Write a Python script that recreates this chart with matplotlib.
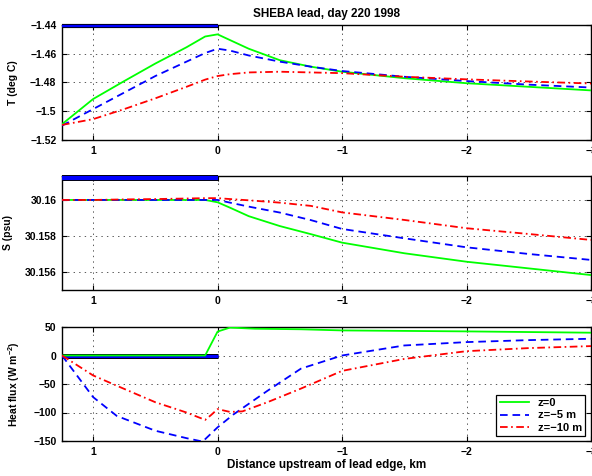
import matplotlib
matplotlib.use('Agg')
import matplotlib.pyplot as plt
import numpy as np

plt.rcParams['font.family'] = ['Liberation Sans', 'DejaVu Sans']
plt.rcParams['font.weight'] = 'bold'
plt.rcParams['axes.labelweight'] = 'bold'
plt.rcParams['mathtext.fontset'] = 'custom'
plt.rcParams['mathtext.rm'] = 'Liberation Sans:bold'
plt.rcParams['mathtext.bf'] = 'Liberation Sans:bold'
plt.rcParams['mathtext.default'] = 'bf'
plt.rcParams['lines.scale_dashes'] = False

# distance upstream of lead edge (km), shared by T and S panels
x_ts = [1.25, 1.0, 0.75, 0.5, 0.25, 0.1, 0.0, -0.1, -0.25, -0.5, -0.75, -1.0, -1.5, -2.0, -2.5, -3.0]

T_z0 = [-1.509, -1.4915, -1.479, -1.4668, -1.4555, -1.448, -1.4465, -1.4505, -1.4565, -1.4645,
        -1.469, -1.4725, -1.477, -1.4805, -1.483, -1.4855]
T_z5 = [-1.510, -1.4985, -1.487, -1.4755, -1.4655, -1.4595, -1.4565, -1.4578, -1.4612, -1.4655,
        -1.469, -1.472, -1.476, -1.479, -1.4815, -1.4835]
T_z10 = [-1.5095, -1.5055, -1.4985, -1.491, -1.483, -1.478, -1.4755, -1.4742, -1.473, -1.4725,
         -1.473, -1.4735, -1.476, -1.4778, -1.4793, -1.4807]

S_z0 = [30.16, 30.16, 30.16, 30.16, 30.16, 30.16, 30.15987, 30.15957, 30.1591, 30.15855,
        30.1581, 30.15763, 30.15704, 30.15657, 30.1562, 30.15583]
S_z5 = [30.16, 30.16, 30.16, 30.16, 30.16, 30.16, 30.16, 30.15985, 30.15963, 30.1593,
        30.15888, 30.15839, 30.15787, 30.15737, 30.157, 30.15667]
S_z10 = [30.16, 30.16, 30.16003, 30.16005, 30.16008, 30.1601, 30.1601, 30.16005, 30.15998, 30.15985,
         30.15967, 30.15931, 30.15889, 30.15843, 30.15811, 30.15778]

# heat flux
x_q0 = [1.25, 0.1, 0.0, -0.1, -0.3, -0.67, -1.0, -2.0, -3.0]
Q_z0 = [0, 0, 42, 49, 47, 46, 44, 42.3, 40]
x_q5 = [1.25, 1.0, 0.81, 0.5, 0.25, 0.12, 0.0, -0.13, -0.4, -0.67, -1.0, -1.5, -2.0, -2.5, -3.0]
Q_z5 = [0, -73, -106, -132, -145, -151, -126, -103, -62, -23, 0, 17.6, 23.5, 27, 29.4]
x_q10 = [1.25, 1.0, 0.81, 0.5, 0.25, 0.1, 0.05, 0.0, -0.1, -0.2, -0.4, -0.67, -1.0,
         -1.5, -2.0, -2.5, -3.0]
Q_z10 = [0, -35, -53, -82, -100, -113, -104, -94, -99, -98, -82, -58, -27, -6, 7.6, 13, 16.5]

# ice cover extent
ice_x = [1.25, 0.0]

labels = ['z=0', 'z=\u22125 m', 'z=\u221210 m']
green = '#00ff00'
blue = '#0000ff'
red = '#ff0000'
dash = (5.5, 3.5)
dashdot = (5.5, 2.5, 1.2, 2.5)

fig = plt.figure(figsize=(5.92, 4.76), dpi=100)
L, W = 62 / 592, 529 / 592
ax1 = fig.add_axes([L, 1 - 140 / 476, W, 115 / 476])
ax2 = fig.add_axes([L, 1 - 290 / 476, W, 114 / 476])
ax3 = fig.add_axes([L, 1 - 441 / 476, W, 114 / 476])


def ice_bar(ax, y, lw):
    ax.plot(ice_x, [y, y], color='black', lw=lw, solid_capstyle='butt', clip_on=False, zorder=3)
    ax.plot(ice_x, [y, y], color=blue, lw=lw - 1.3, solid_capstyle='butt', clip_on=False, zorder=3)


# T
ax1.plot(x_ts, T_z0, color=green, lw=1.3, zorder=4)
ax1.plot(x_ts, T_z5, color=blue, lw=1.3, dashes=dash, zorder=4)
ax1.plot(x_ts, T_z10, color=red, lw=1.3, dashes=dashdot, zorder=4)
ice_bar(ax1, -1.4405, 3.0)
ax1.set_ylim(-1.52, -1.44)
ax1.set_yticks([-1.52, -1.5, -1.48, -1.46, -1.44])
ax1.set_yticklabels(['\u22121.52', '\u22121.5', '\u22121.48', '\u22121.46', '\u22121.44'])
ax1.set_ylabel('T (deg C)')
ax1.yaxis.set_label_coords(-0.083, 0.5)
ax1.set_title('SHEBA lead, day 220 1998', fontsize=8.5, fontweight='bold', pad=6)

# S
ax2.plot(x_ts, S_z0, color=green, lw=1.3, zorder=4)
ax2.plot(x_ts, S_z5, color=blue, lw=1.3, dashes=dash, zorder=4)
ax2.plot(x_ts, S_z10, color=red, lw=1.3, dashes=dashdot, zorder=4)
ice_bar(ax2, 30.16122, 4.3)
ax2.set_ylim(30.155, 30.16133)
ax2.set_yticks([30.156, 30.158, 30.16])
ax2.set_yticklabels(['30.156', '30.158', '30.16'])
ax2.set_ylabel('S (psu)')
ax2.yaxis.set_label_coords(-0.093, 0.5)

# heat flux
ice_bar(ax3, -1.5, 3.6)
ax3.plot(x_q0, Q_z0, color=green, lw=1.3, zorder=4, label=labels[0])
ax3.plot(x_q5, Q_z5, color=blue, lw=1.3, dashes=dash, zorder=4, label=labels[1])
ax3.plot(x_q10, Q_z10, color=red, lw=1.3, dashes=dashdot, zorder=4, label=labels[2])
ax3.set_ylim(-150, 50)
ax3.set_yticks([-150, -100, -50, 0, 50])
ax3.set_yticklabels(['\u2212150', '\u2212100', '\u221250', '0', '50'])
ax3.set_ylabel('Heat flux (W m$^{-2}$)')
ax3.yaxis.set_label_coords(-0.076, 0.5)
ax3.set_xlabel('Distance upstream of lead edge, km', labelpad=2)
leg = ax3.legend(loc='lower right', bbox_to_anchor=(0.989, 0.044), fontsize=8,
                 fancybox=False, framealpha=1, edgecolor='black', handlelength=2.6,
                 borderpad=0.3, labelspacing=0.2, handletextpad=0.8, borderaxespad=0)
leg.get_frame().set_linewidth(0.9)

for ax in (ax1, ax2, ax3):
    ax.set_xlim(1.25, -3)
    ax.set_xticks([1, 0, -1, -2, -3])
    ax.set_xticklabels(['1', '0', '\u22121', '\u22122', '\u22123'])
    ax.grid(True, linestyle=(0, (1, 3)), color='0.35', lw=0.7)
    ax.tick_params(direction='in', length=3.5, width=0.8, top=True, right=True,
                   labelsize=7.5, pad=4)
    for lab in ax.get_xticklabels() + ax.get_yticklabels():
        lab.set_fontweight('bold')
    for sp in ax.spines.values():
        sp.set_linewidth(1.0)
    ax.yaxis.label.set_fontsize(7.5)
    ax.xaxis.label.set_fontsize(8.4)

fig.savefig('out.png', dpi=100)
